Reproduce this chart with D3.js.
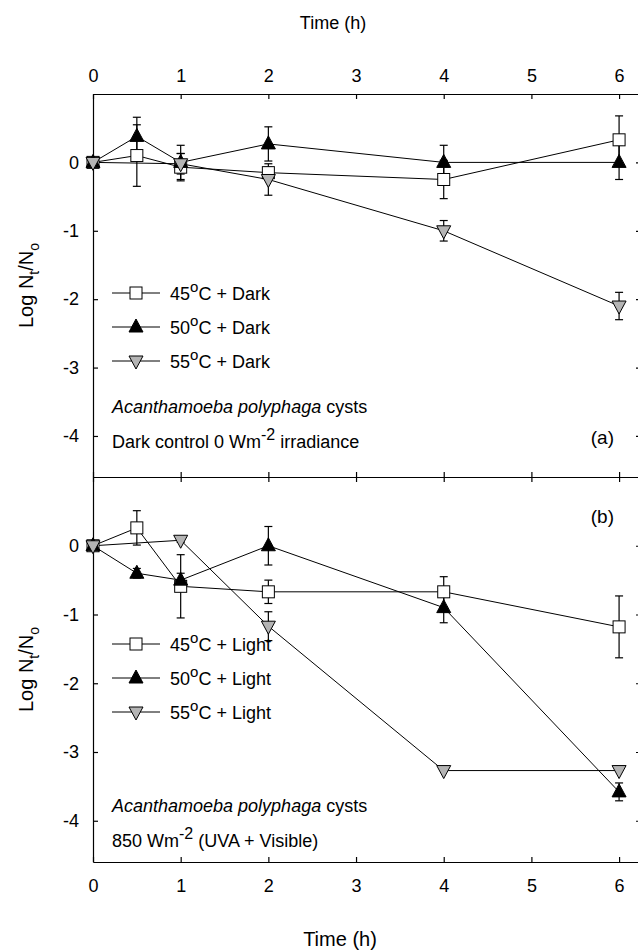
<!DOCTYPE html>
<html>
<head>
<meta charset="utf-8">
<script src="https://cdn.jsdelivr.net/npm/d3@7.9.0/dist/d3.min.js"></script>
<style>
  body { margin: 0; background: #fff; }
  svg { font-family: Arial, "Liberation Sans", sans-serif; }
  .axis path, .axis line { stroke: #000; stroke-width: 1.2; }
  .axis text { font-size: 18px; fill: #000; }
</style>
</head>
<body>
<svg id="chart" width="638" height="951"></svg>
<script>
// time points (h)
const times = [0, 0.5, 1, 2, 4, 6];
const xTicks = [0, 1, 2, 3, 4, 5, 6];
const yTicks = [0, -1, -2, -3, -4];

// panel (a) dark control
const dark45 = [0, 0.1, -0.07, -0.15, -0.25, 0.33];
const dark45Err = [0, 0.45, 0.2, 0.08, 0.28, 0.35];
const dark50 = [0, 0.38, 0, 0.27, 0, 0];
const dark50Err = [0, 0.28, 0.25, 0.25, 0.25, 0.25];
const dark55 = [0, null, -0.02, -0.25, -1.0, -2.1];
const dark55Err = [0, null, 0.15, 0.23, 0.15, 0.2];

// panel (b) light 850 W/m2
const light45 = [0, 0.26, -0.59, -0.67, -0.67, -1.18];
const light45Err = [0, 0.25, 0.46, 0.17, 0.22, 0.45];
const light50 = [0, -0.4, -0.5, 0, -0.9, -3.58];
const light50Err = [0, 0.07, 0.1, 0.28, 0.22, 0.13];
const light55 = [0, null, 0.08, -1.17, -3.27, -3.27];
const light55Err = [0, null, 0.03, 0.21, 0, 0];

const svg = d3.select('#chart');

const x = d3.scaleLinear().domain([0, 6.25]).range([93, 641]);
const yA = d3.scaleLinear().domain([-4.6, 1.0]).range([477, 94]);
const yB = d3.scaleLinear().domain([-4.6, 1.0]).range([862, 477]);

// plain hyphen for negatives, like the original figure
const fmt = d => String(d);

function toPoints(vals, errs) {
    return times.map((t, i) => ({ t, v: vals[i], e: errs[i] })).filter(d => d.v !== null);
}

const seriesA = [
    { name: '45', label: 'Dark', shape: 'square', fill: '#fff', data: toPoints(dark45, dark45Err) },
    { name: '50', label: 'Dark', shape: 'up', fill: '#000', data: toPoints(dark50, dark50Err) },
    { name: '55', label: 'Dark', shape: 'down', fill: '#b4b4b4', data: toPoints(dark55, dark55Err) }
];
const seriesB = [
    { name: '45', label: 'Light', shape: 'square', fill: '#fff', data: toPoints(light45, light45Err) },
    { name: '50', label: 'Light', shape: 'up', fill: '#000', data: toPoints(light50, light50Err) },
    { name: '55', label: 'Light', shape: 'down', fill: '#b4b4b4', data: toPoints(light55, light55Err) }
];

function drawMarker(g, shape, fill, cx, cy) {
    if (shape === 'square') {
        g.append('rect').attr('x', cx - 6).attr('y', cy - 6).attr('width', 12).attr('height', 12)
            .attr('fill', fill).attr('stroke', '#000').attr('stroke-width', 1);
    } else if (shape === 'up') {
        g.append('path').attr('d', `M${cx},${cy - 8}L${cx + 7},${cy + 5}L${cx - 7},${cy + 5}Z`)
            .attr('fill', fill).attr('stroke', '#000').attr('stroke-width', 1);
    } else {
        g.append('path').attr('d', `M${cx},${cy + 8}L${cx + 7},${cy - 5}L${cx - 7},${cy - 5}Z`)
            .attr('fill', fill).attr('stroke', '#000').attr('stroke-width', 1);
    }
}

function drawPanel(y, series, labelled) {
    const top = y.range()[1], bottom = y.range()[0];
    const g = svg.append('g');

    // axes with inward ticks
    g.append('g').attr('class', 'axis').attr('transform', `translate(0,${top})`)
        .call(d3.axisTop(x).tickValues(xTicks).tickSize(-5).tickSizeOuter(0).tickPadding(12)
            .tickFormat(labelled === 'top' ? fmt : ''));
    g.append('g').attr('class', 'axis').attr('transform', `translate(0,${bottom})`)
        .call(d3.axisBottom(x).tickValues(xTicks).tickSize(-5).tickSizeOuter(0).tickPadding(17)
            .tickFormat(labelled === 'bottom' ? fmt : ''));
    g.append('g').attr('class', 'axis').attr('transform', `translate(${x.range()[0]},0)`)
        .call(d3.axisLeft(y).tickValues(yTicks).tickSize(-5).tickSizeOuter(0).tickPadding(14)
            .tickFormat(fmt));
    g.append('g').attr('class', 'axis').attr('transform', `translate(${x.range()[1]},0)`)
        .call(d3.axisRight(y).tickValues(yTicks).tickSize(-5).tickSizeOuter(0).tickFormat(''));

    const line = d3.line().x(d => x(d.t)).y(d => y(d.v));
    series.forEach(s => {
        g.append('path').datum(s.data).attr('d', line)
            .attr('fill', 'none').attr('stroke', '#000').attr('stroke-width', 1);
    });
    series.forEach(s => {
        s.data.filter(d => d.e > 0).forEach(d => {
            const cx = x(d.t), y1 = y(d.v + d.e), y2 = y(d.v - d.e);
            g.append('line').attr('x1', cx).attr('x2', cx).attr('y1', y1).attr('y2', y2)
                .attr('stroke', '#000').attr('stroke-width', 1.2);
            [y1, y2].forEach(yy => g.append('line').attr('x1', cx - 4).attr('x2', cx + 4)
                .attr('y1', yy).attr('y2', yy).attr('stroke', '#000').attr('stroke-width', 1.2));
        });
    });
    series.forEach(s => {
        s.data.forEach(d => drawMarker(g, s.shape, s.fill, x(d.t), y(d.v)));
    });
    return g;
}

const gA = drawPanel(yA, seriesA, 'top');
const gB = drawPanel(yB, seriesB, 'bottom');

function legend(g, series, y0) {
    series.forEach((s, i) => {
        const yy = y0 + i * 34;
        g.append('line').attr('x1', 112).attr('x2', 160).attr('y1', yy).attr('y2', yy)
            .attr('stroke', '#000').attr('stroke-width', 1);
        drawMarker(g, s.shape, s.fill, 136, yy);
        const t = g.append('text').attr('x', 170).attr('y', yy + 7).attr('font-size', 18);
        t.append('tspan').text(s.name);
        t.append('tspan').attr('dy', -8).attr('font-size', 15).text('o');
        t.append('tspan').attr('dy', 8).text(`C + ${s.label}`);
    });
}
legend(gA, seriesA, 293);
legend(gB, seriesB, 644);

function note(g, y1, line2, sup, line2b) {
    const t1 = g.append('text').attr('x', 112).attr('y', y1).attr('font-size', 18);
    t1.append('tspan').attr('font-style', 'italic').text('Acanthamoeba polyphaga');
    t1.append('tspan').text(' cysts');
    const t2 = g.append('text').attr('x', 112).attr('y', y1 + 35).attr('font-size', 18);
    t2.append('tspan').text(line2);
    t2.append('tspan').attr('dy', -8).attr('font-size', 16).text(sup);
    t2.append('tspan').attr('dy', 8).text(line2b);
}
note(gA, 413, 'Dark control 0 Wm', '-2', ' irradiance');
note(gB, 812, '850 Wm', '-2', ' (UVA + Visible)');

svg.append('text').attr('x', 614).attr('y', 444).attr('text-anchor', 'end').attr('font-size', 19).text('(a)');
svg.append('text').attr('x', 614).attr('y', 523).attr('text-anchor', 'end').attr('font-size', 19).text('(b)');

svg.append('text').attr('x', 333).attr('y', 29).attr('text-anchor', 'middle').attr('font-size', 18).text('Time (h)');
svg.append('text').attr('x', 340).attr('y', 946).attr('text-anchor', 'middle').attr('font-size', 20).text('Time (h)');

function yTitle(cy) {
    const t = svg.append('text').attr('transform', `translate(33,${cy}) rotate(-90)`)
        .attr('text-anchor', 'middle').attr('font-size', 20);
    t.append('tspan').text('Log N');
    t.append('tspan').attr('dy', 6).attr('font-size', 14).text('t');
    t.append('tspan').attr('dy', -6).text('/N');
    t.append('tspan').attr('dy', 6).attr('font-size', 14).text('o');
}
yTitle(yA(-1.8));
yTitle(yB(-1.8));
</script>
</body>
</html>
